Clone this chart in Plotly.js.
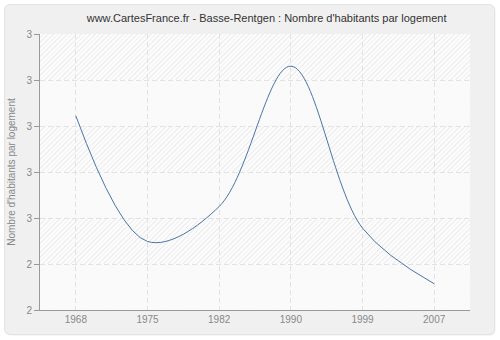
<!DOCTYPE html>
<html><head><meta charset="utf-8">
<script src="https://cdn.plot.ly/plotly-3.0.1.min.js"></script>
<style>
html,body{margin:0;padding:0;background:#fff;width:500px;height:340px;overflow:hidden;}
#panel{position:absolute;left:5px;top:5px;width:489px;height:329px;background:#f0f0f0;border-radius:5px;
box-shadow:0 0 0 1px #e3e3e3,1px 1px 2px rgba(0,0,0,0.12);overflow:hidden;}
#hatch{position:absolute;left:35px;top:29px;width:430px;height:276px;
background:repeating-linear-gradient(135deg,#fcfcfc 0px,#fcfcfc 2.3px,#f0f0f0 2.3px,#f0f0f0 3.3px);}
#chart{position:absolute;left:0;top:0;width:489px;height:329px;}
</style></head>
<body>
<div id="panel"><div id="hatch"></div><div id="chart"></div></div>
<script>
const years = ['1968','1975','1982','1990','1999','2007'];
const values = [2.722, 2.449, 2.525, 2.830, 2.478, 2.357];
const yTickVals = [2.3, 2.4, 2.5, 2.6, 2.7, 2.8, 2.9];
const yTickText = ['2','2','3','3','3','3','3'];

const bands = [];
for (let i = 0; i < yTickVals.length - 1; i++) {
  if (i % 2 === 0) {
    bands.push({type:'rect', xref:'paper', yref:'y', x0:0, x1:1, y0:yTickVals[i], y1:yTickVals[i+1],
      fillcolor:'rgba(250,250,250,0.9)', line:{width:0}, layer:'below'});
  }
}

const font = 'Liberation Sans, Arial, sans-serif';
Plotly.newPlot('chart', [{
  x: years, y: values, type:'scatter', mode:'lines',
  line:{shape:'spline', smoothing:1, color:'#4a74aa', width:1},
  hoverinfo:'skip'
}], {
  width:489, height:329,
  margin:{l:35, r:24, t:29, b:24},
  paper_bgcolor:'rgba(0,0,0,0)', plot_bgcolor:'rgba(0,0,0,0)',
  showlegend:false,
  title:{text:"www.CartesFrance.fr - Basse-Rentgen : Nombre d'habitants par logement",
    font:{family:font, size:11, color:'#333'}, x:0.535, xanchor:'center', y:0.96, yanchor:'middle'},
  xaxis:{type:'category', range:[-0.5,5.5], showgrid:true, gridcolor:'#e2e2e2', griddash:'5px,3px', gridwidth:1,
    showline:true, linecolor:'#999', linewidth:1, ticks:'', zeroline:false,
    tickfont:{family:font, size:10, color:'#888'}, fixedrange:true},
  yaxis:{range:[2.3,2.9], tickvals:yTickVals, ticktext:yTickText, showgrid:true, gridcolor:'#e2e2e2', griddash:'5px,3px',
    showline:true, linecolor:'#999', linewidth:1, ticks:'outside', ticklen:5, tickcolor:'#999', zeroline:false,
    tickfont:{family:font, size:10, color:'#888'},
    title:{text:"Nombre d'habitants par logement", font:{family:font, size:10, color:'#888'}, standoff:8}, fixedrange:true},
  shapes: bands
}, {displayModeBar:false, staticPlot:true});
</script>
</body></html>
